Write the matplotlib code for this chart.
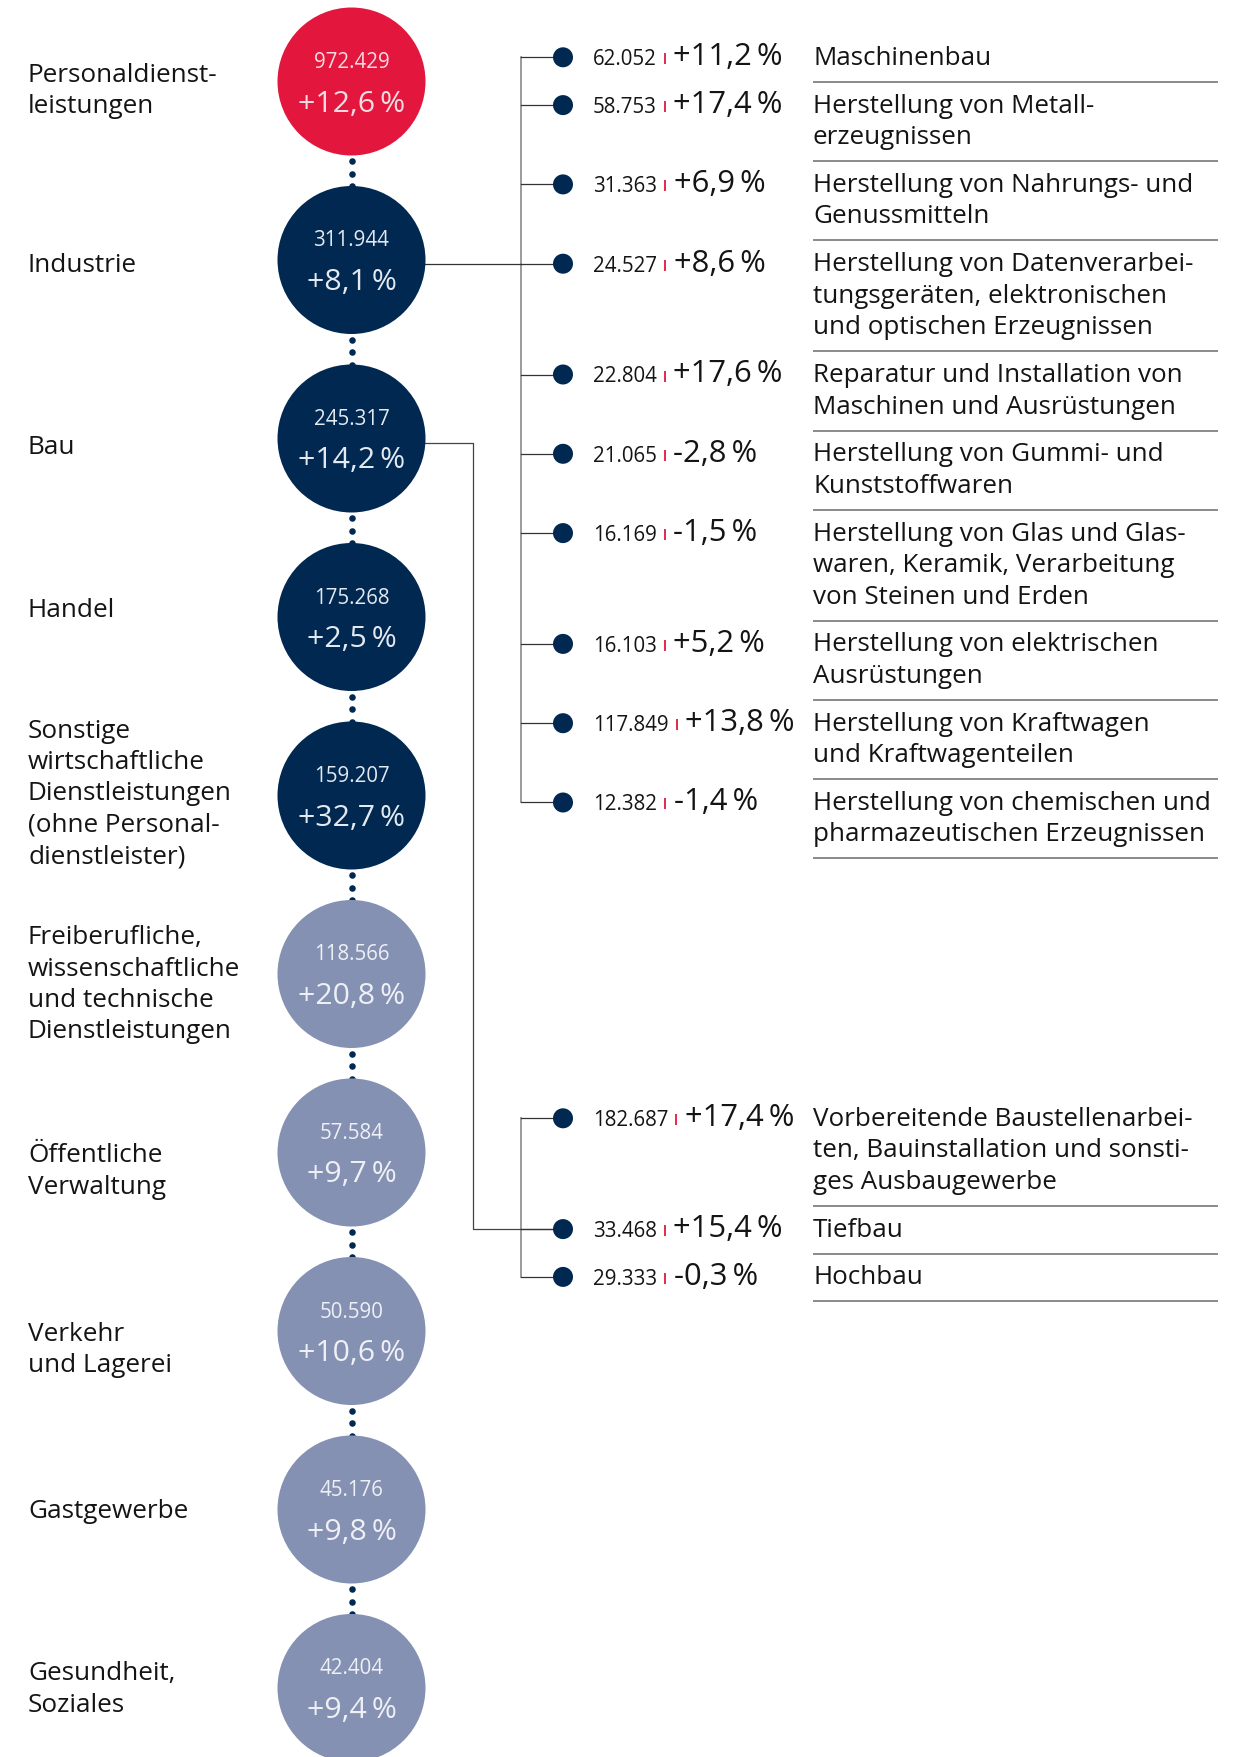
import matplotlib
matplotlib.use("Agg")
import matplotlib.pyplot as plt
from matplotlib.patches import Circle
import numpy as np

# ---------------- data ----------------
sector_labels = [
    "Personaldienst-\nleistungen",
    "Industrie",
    "Bau",
    "Handel",
    "Sonstige\nwirtschaftliche\nDienstleistungen\n(ohne Personal-\ndienstleister)",
    "Freiberufliche,\nwissenschaftliche\nund technische\nDienstleistungen",
    "Öffentliche\nVerwaltung",
    "Verkehr\nund Lagerei",
    "Gastgewerbe",
    "Gesundheit,\nSoziales",
]
sector_values = [972429, 311944, 245317, 175268, 159207, 118566, 57584, 50590, 45176, 42404]
sector_change = [12.6, 8.1, 14.2, 2.5, 32.7, 20.8, 9.7, 10.6, 9.8, 9.4]
sector_group = ["highlight", "dark", "dark", "dark", "dark",
                "light", "light", "light", "light", "light"]

industry_labels = [
    "Maschinenbau",
    "Herstellung von Metall-\nerzeugnissen",
    "Herstellung von Nahrungs- und\nGenussmitteln",
    "Herstellung von Datenverarbei-\ntungsgeräten, elektronischen\nund optischen Erzeugnissen",
    "Reparatur und Installation von\nMaschinen und Ausrüstungen",
    "Herstellung von Gummi- und\nKunststoffwaren",
    "Herstellung von Glas und Glas-\nwaren, Keramik, Verarbeitung\nvon Steinen und Erden",
    "Herstellung von elektrischen\nAusrüstungen",
    "Herstellung von Kraftwagen\nund Kraftwagenteilen",
    "Herstellung von chemischen und\npharmazeutischen Erzeugnissen",
]
industry_values = [62052, 58753, 31363, 24527, 22804, 21065, 16169, 16103, 117849, 12382]
industry_change = [11.2, 17.4, 6.9, 8.6, 17.6, -2.8, -1.5, 5.2, 13.8, -1.4]

bau_labels = [
    "Vorbereitende Baustellenarbei-\nten, Bauinstallation und sonsti-\nges Ausbaugewerbe",
    "Tiefbau",
    "Hochbau",
]
bau_values = [182687, 33468, 29333]
bau_change = [17.4, 15.4, -0.3]

# ---------------- style / layout ----------------
W, H, DPI = 1246, 1757, 100
FONT = ["Open Sans", "DejaVu Sans"]
RED = "#E3173D"
NAVY = "#002851"
LIGHT = "#8591B2"
TXT = "#141414"
fill = {"highlight": RED, "dark": NAVY, "light": LIGHT}
inner_txt = {"highlight": "#F6DCE2", "dark": "#E4E8EF", "light": "#EEF0F5"}

# first-line baseline offset of each left label relative to circle centre
label_dy = [0, 12, 16, 0, -58, -30, 10, 10, 9, -8]

CX, CY0, STEP, R = 351.5, 81.5, 178.5, 74
LABEL_X = 28
LINE = 31.5


def fmt_num(v):
    return f"{v:,}".replace(",", ".")


def fmt_pct(c):
    return f"{c:+.1f}".replace(".", ",") + "\u2009%"


fig = plt.figure(figsize=(W / DPI, H / DPI), dpi=DPI)
ax = fig.add_axes([0, 0, 1, 1])
ax.set_xlim(0, W)
ax.set_ylim(H, 0)
ax.axis("off")
renderer = fig.canvas.get_renderer()

# ---------------- left column: circles ----------------
centres = []
for i, (lab, val, ch, grp) in enumerate(zip(sector_labels, sector_values,
                                             sector_change, sector_group)):
    cy = CY0 + i * STEP
    centres.append(cy)
    ax.add_patch(Circle((CX, cy), R, facecolor=fill[grp], edgecolor="none", zorder=3))
    ax.text(CX, cy - 13.5, fmt_num(val), ha="center", va="baseline",
            fontsize=14.8, color=inner_txt[grp], family=FONT, zorder=4)
    ax.text(CX, cy + 30, fmt_pct(ch), ha="center", va="baseline",
            fontsize=21.8, color=inner_txt[grp], family=FONT, zorder=4)
    for k, line in enumerate(lab.split("\n")):
        ax.text(LABEL_X, cy + label_dy[i] + k * LINE, line, ha="left", va="baseline",
                fontsize=18.8, color=TXT, family=FONT)
    if i < len(sector_labels) - 1:
        ys = cy + R + 5.5 + 12.5 * np.arange(3)
        ax.plot([CX] * 3, ys, "o", ms=4.7, color=NAVY, mec="none", zorder=2)

# ---------------- right column: sub lists ----------------
TRUNK_X, DOT_X, DOT_R = 521, 563, 10
NUM_X, TEXT_X, SEP_X2 = 593, 813, 1218


def draw_list(labels, values, changes, top):
    sep_prev = top
    dots = []
    for lab, val, ch in zip(labels, values, changes):
        lines = lab.split("\n")
        base = sep_prev + 30.8
        for k, line in enumerate(lines):
            ax.text(TEXT_X, base + k * LINE, line, ha="left", va="baseline",
                    fontsize=18.7, color=TXT, family=FONT)
        sep = base + (len(lines) - 1) * LINE + 17
        ax.plot([TEXT_X, SEP_X2], [sep, sep], color="#6b6b6b", lw=1.1,
                solid_capstyle="butt")
        dy = base - 7.5
        dots.append(dy)
        ax.add_patch(Circle((DOT_X, dy), DOT_R, facecolor=NAVY, edgecolor="none", zorder=3))
        ax.plot([TRUNK_X, DOT_X], [dy, dy], color="#333333", lw=0.9, zorder=2)
        t = ax.text(NUM_X, base + 0.5, fmt_num(val), ha="left", va="baseline",
                    fontsize=14.8, color=TXT, family=FONT)
        w = t.get_window_extent(renderer).width
        bx = NUM_X + w + 8
        ax.plot([bx, bx], [base - 11.5, base - 0.5], color=RED, lw=1.3,
                solid_capstyle="butt")
        ax.text(bx + 8.5, base + 0.5, fmt_pct(ch), ha="left", va="baseline",
                fontsize=22.3, color=TXT, family=FONT)
        sep_prev = sep
    ax.plot([TRUNK_X, TRUNK_X], [dots[0], dots[-1]], color="#8a8a8a", lw=1.2, zorder=1)
    return dots


ind_dots = draw_list(industry_labels, industry_values, industry_change, 34)
bau_dots = draw_list(bau_labels, bau_values, bau_change, 1095)

# connectors from the circles to the sub lists
ax.plot([CX, TRUNK_X], [ind_dots[3], ind_dots[3]], color="#333333", lw=0.9, zorder=1)
bau_y = centres[2] + 4
ax.plot([CX, 473, 473, DOT_X], [bau_y, bau_y, bau_dots[1], bau_dots[1]],
        color="#444444", lw=0.9, zorder=1)

fig.savefig("out.png", dpi=DPI, facecolor="white")
